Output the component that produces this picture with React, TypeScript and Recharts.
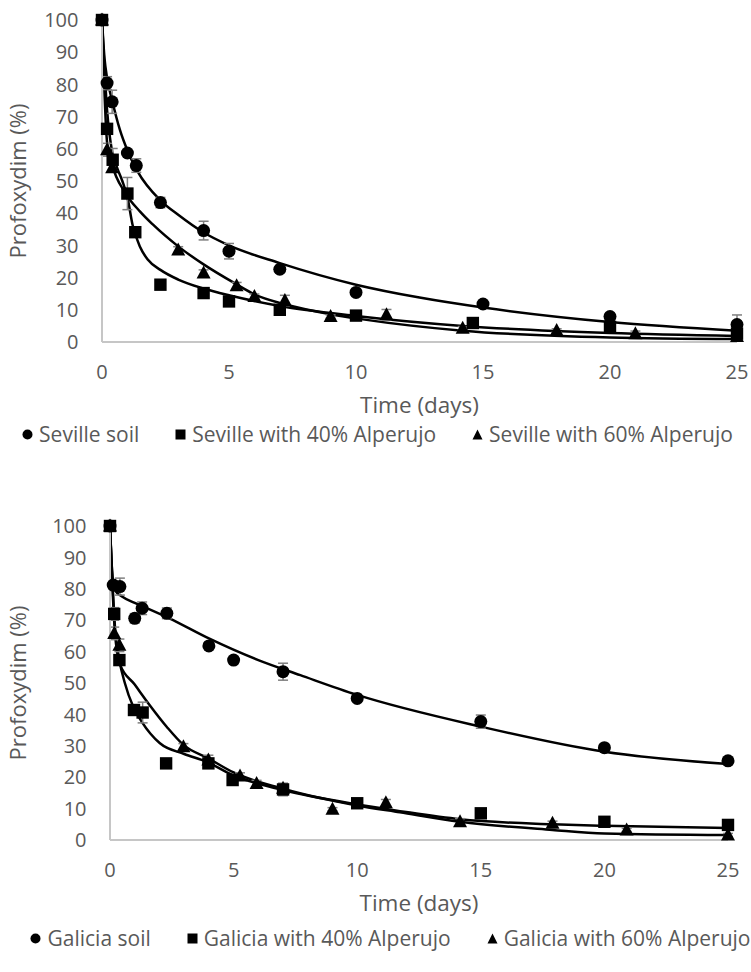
import React from 'react';
import { ComposedChart, Line, Scatter, XAxis, YAxis, ErrorBar, Legend } from 'recharts';

// ---------- shared axis ticks ----------
const xTicks = [0, 5, 10, 15, 20, 25];
const yTicks = [0, 10, 20, 30, 40, 50, 60, 70, 80, 90, 100];

// ---------- Seville (top panel) ----------
const sevilleNames = ['Seville soil', 'Seville with 40% Alperujo', 'Seville with 60% Alperujo'];

const sevilleSoilDays = [0, 0.2, 0.4, 1.0, 1.35, 2.3, 4.0, 5.0, 7.0, 10.0, 15.0, 20.0, 25.0];
const sevilleSoilValues = [100, 80.4, 74.6, 58.7, 54.8, 43.3, 34.6, 28.2, 22.6, 15.4, 11.8, 7.9, 5.4];
const sevilleSoilErrors = [0, 2.0, 3.6, 0.8, 2.1, 1.6, 2.9, 2.4, 0.8, 0.6, 0.6, 0.6, 3.0];

const sevilleA40Days = [0, 0.2, 0.42, 1.0, 1.31, 2.3, 4.0, 5.0, 7.0, 10.0, 14.6, 20.0, 25.0];
const sevilleA40Values = [100, 66.2, 56.6, 46.1, 34.1, 17.8, 15.2, 12.6, 10.0, 8.2, 5.9, 4.7, 2.6];
const sevilleA40Errors = [0, 1.5, 3.5, 5.0, 0, 1.2, 0, 0, 1.0, 0, 0.8, 0.8, 0.5];

const sevilleA60Days = [0, 0.2, 0.4, 3.0, 4.0, 5.3, 6.0, 7.2, 9.0, 11.2, 14.2, 17.9, 21.0, 25.0];
const sevilleA60Values = [100, 59.7, 54.1, 28.6, 21.4, 17.5, 14.1, 12.9, 7.9, 8.5, 4.3, 3.6, 2.6, 1.7];
const sevilleA60Errors = [0, 2.0, 1.0, 1.0, 1.0, 1.0, 0.8, 1.6, 0.5, 1.6, 0.5, 0.5, 0.8, 0.5];

const sevilleSoilFitDays = [0, 0.1, 0.2, 0.4, 0.7, 1.0, 1.4, 2.3, 3, 4, 5, 7, 10, 12.5, 15, 20, 25];
const sevilleSoilFitValues = [100, 88, 82, 75, 66, 59.5, 53, 44, 39.5, 34, 30, 24.5, 17.8, 13.8, 10.7, 6.2, 3.5];

const sevilleA40FitDays = [0, 0.2, 0.4, 0.6, 0.8, 1.0, 1.2, 1.5, 1.8, 2.3, 3, 4, 5, 7, 10, 14.2, 20, 25];
const sevilleA40FitValues = [100, 72, 59, 54, 50, 45, 36.5, 29.5, 25.6, 22.4, 19.4, 16.6, 14.5, 11.2, 8.1, 5.0, 2.8, 1.9];

const sevilleA60FitDays = [0, 0.2, 0.4, 0.9, 1.5, 2.0, 3.0, 4.0, 5.3, 6.0, 7.2, 9.0, 10.2, 14.2, 20, 25];
const sevilleA60FitValues = [100, 62, 55, 46.5, 40.5, 36.5, 29.7, 24.1, 17.9, 14.8, 11.7, 8.6, 7.1, 3.5, 1.4, 0.9];

// ---------- Galicia (bottom panel) ----------
const galiciaNames = ['Galicia soil', 'Galicia with 40% Alperujo', 'Galicia with 60% Alperujo'];

const galiciaSoilDays = [0, 0.13, 0.4, 1.0, 1.3, 2.3, 4.0, 5.0, 7.0, 10.0, 15.0, 20.0, 25.0];
const galiciaSoilValues = [100, 81.2, 80.7, 70.6, 73.8, 72.2, 61.8, 57.3, 53.6, 45.1, 37.7, 29.4, 25.2];
const galiciaSoilErrors = [0, 0.8, 2.7, 1.5, 2.0, 1.7, 0.8, 1.0, 2.7, 0.8, 2.1, 0.8, 0.5];

const galiciaA40Days = [0, 0.17, 0.38, 0.97, 1.32, 2.27, 3.98, 4.96, 7.0, 10.0, 15.0, 20.0, 25.0];
const galiciaA40Values = [100, 72.0, 57.3, 41.4, 40.6, 24.4, 24.4, 19.1, 16.1, 11.7, 8.5, 5.8, 4.8];
const galiciaA40Errors = [0, 2.0, 1.0, 0.5, 3.3, 0.5, 1.5, 0.8, 2.0, 0.8, 0.8, 0.5, 0.5];

const galiciaA60Days = [0, 0.17, 0.38, 2.97, 3.98, 5.26, 5.93, 7.0, 9.0, 11.16, 14.16, 17.9, 20.9, 25.0];
const galiciaA60Values = [100, 65.8, 62.0, 29.7, 25.5, 20.4, 18.0, 16.5, 9.8, 11.9, 5.8, 5.3, 3.2, 1.6];
const galiciaA60Errors = [0, 2.0, 2.0, 1.0, 1.5, 1.0, 1.0, 1.0, 0.5, 1.0, 1.0, 0.7, 0.5, 0.5];

const galiciaSoilFitDays = [0, 0.1, 0.2, 0.5, 1.0, 1.35, 2.4, 4.0, 6.0, 7.7, 10, 15, 20, 25];
const galiciaSoilFitValues = [100, 84, 79.5, 77.5, 75.5, 74.3, 70.6, 64.2, 57.3, 52.5, 46.2, 36.1, 28.1, 24.2];

const galiciaA40FitDays = [0, 0.2, 0.38, 0.6, 0.94, 1.28, 2.02, 3.0, 3.91, 4.96, 7, 10, 11.73, 14.16, 17.9, 20, 25];
const galiciaA40FitValues = [100, 68, 57.3, 50, 42.4, 37.7, 30.8, 27.4, 24.9, 20.7, 15.9, 11.3, 9.2, 6.6, 5.0, 4.5, 3.8];

const galiciaA60FitDays = [0, 0.2, 0.4, 1.0, 1.6, 2.3, 2.97, 3.98, 5.0, 7.0, 10.0, 11.73, 14.16, 17.9, 20, 25];
const galiciaA60FitValues = [100, 66, 56, 49.5, 43, 36, 30.3, 26, 21.5, 16.3, 11.0, 8.8, 5.8, 3.2, 2.1, 1.6];

// ---------- helpers ----------
type Pt = { x: number; y: number; e?: number };
const zip = (xs: number[], ys: number[], es?: number[]): Pt[] =>
  xs.map((x, i) => ({ x, y: ys[i], e: es ? es[i] : undefined }));

const FONT = "'Open Sans', sans-serif";
const TEXT = '#595959';
const AXIS = '#c6c6c6';
const ERR = '#7f7f7f';

const CircleShape = (p: any) => <circle cx={p.cx} cy={p.cy} r={6.5} fill="#000" />;
const SquareShape = (p: any) => <rect x={p.cx - 6.2} y={p.cy - 6.2} width={12.4} height={12.4} fill="#000" />;
const TriangleShape = (p: any) => (
  <polygon points={`${p.cx},${p.cy - 7.5} ${p.cx - 7},${p.cy + 5.5} ${p.cx + 7},${p.cy + 5.5}`} fill="#000" />
);

const LegendIcon = ({ kind }: { kind: number }) => (
  <svg width={11} height={11} style={{ marginRight: 6, flex: 'none' }}>
    {kind === 0 && <circle cx={5.5} cy={5.5} r={5} fill="#000" />}
    {kind === 1 && <rect x={0.5} y={0.5} width={10} height={10} fill="#000" />}
    {kind === 2 && <polygon points="5.5,0.5 0.5,10.5 10.5,10.5" fill="#000" />}
  </svg>
);

const LegendRow = ({ names, shift }: { names: string[]; shift: number }) => (
  <div
    style={{
      display: 'flex',
      justifyContent: 'center',
      alignItems: 'center',
      gap: 36,
      fontFamily: FONT,
      fontSize: 21,
      color: TEXT,
      whiteSpace: 'nowrap',
      lineHeight: '24px',
      paddingLeft: shift,
    }}
  >
    {names.map((n, i) => (
      <div key={n} style={{ display: 'flex', alignItems: 'center' }}>
        <LegendIcon kind={i} />
        <span>{n}</span>
      </div>
    ))}
  </div>
);

type PanelProps = {
  names: string[];
  soil: Pt[];
  a40: Pt[];
  a60: Pt[];
  soilFit: Pt[];
  a40Fit: Pt[];
  a60Fit: Pt[];
  margin: { top: number; right: number; bottom: number; left: number };
  yAxisWidth: number;
  legendTop: number;
  legendShift: number;
};

const Panel = (p: PanelProps) => (
  <ComposedChart width={751} height={486} margin={p.margin}>
    <XAxis
      type="number"
      dataKey="x"
      domain={[0, 25]}
      ticks={xTicks}
      tickLine={false}
      tickSize={0}
      tickMargin={23}
      axisLine={{ stroke: AXIS, strokeWidth: 2 }}
      tick={{ fill: TEXT, fontSize: 20, fontFamily: FONT }}
      height={71}
      label={{ value: 'Time (days)', position: 'insideBottom', offset: 0, fill: TEXT, fontSize: 22.5, fontFamily: FONT }}
    />
    <YAxis
      type="number"
      dataKey="y"
      domain={[0, 100]}
      ticks={yTicks}
      width={p.yAxisWidth}
      tickLine={false}
      tickSize={0}
      tickMargin={23.5}
      axisLine={{ stroke: AXIS, strokeWidth: 2 }}
      tick={{ fill: TEXT, fontSize: 20, fontFamily: FONT }}
      label={{
        value: 'Profoxydim (%)',
        angle: -90,
        position: 'insideLeft',
        offset: 18,
        fill: TEXT,
        fontSize: 22,
        fontFamily: FONT,
        style: { textAnchor: 'middle' },
      }}
    />
    <Legend
      verticalAlign="middle"
      align="center"
      layout="horizontal"
      wrapperStyle={{ top: p.legendTop, left: 0, width: 751 }}
      content={() => <LegendRow names={p.names} shift={p.legendShift} />}
    />
    <Line data={p.soilFit} dataKey="y" type="monotone" stroke="#000" strokeWidth={2.5} dot={false} activeDot={false} legendType="none" isAnimationActive={false} />
    <Line data={p.a40Fit} dataKey="y" type="monotone" stroke="#000" strokeWidth={2.5} dot={false} activeDot={false} legendType="none" isAnimationActive={false} />
    <Line data={p.a60Fit} dataKey="y" type="monotone" stroke="#000" strokeWidth={2.5} dot={false} activeDot={false} legendType="none" isAnimationActive={false} />
    <Scatter name={p.names[0]} data={p.soil} shape={CircleShape} legendType="circle" isAnimationActive={false}>
      <ErrorBar dataKey="e" direction="y" width={5} stroke={ERR} strokeWidth={1.5} isAnimationActive={false} />
    </Scatter>
    <Scatter name={p.names[1]} data={p.a40} shape={SquareShape} legendType="square" isAnimationActive={false}>
      <ErrorBar dataKey="e" direction="y" width={5} stroke={ERR} strokeWidth={1.5} isAnimationActive={false} />
    </Scatter>
    <Scatter name={p.names[2]} data={p.a60} shape={TriangleShape} legendType="triangle" isAnimationActive={false}>
      <ErrorBar dataKey="e" direction="y" width={5} stroke={ERR} strokeWidth={1.5} isAnimationActive={false} />
    </Scatter>
  </ComposedChart>
);

export default function App() {
  return (
    <div style={{ position: 'absolute', left: 0, top: 0, width: 751, height: 972, background: '#fff' }}>
      <div style={{ position: 'absolute', left: 0, top: 0 }}>
        <Panel
          names={sevilleNames}
          soil={zip(sevilleSoilDays, sevilleSoilValues, sevilleSoilErrors)}
          a40={zip(sevilleA40Days, sevilleA40Values, sevilleA40Errors)}
          a60={zip(sevilleA60Days, sevilleA60Values, sevilleA60Errors)}
          soilFit={zip(sevilleSoilFitDays, sevilleSoilFitValues)}
          a40Fit={zip(sevilleA40FitDays, sevilleA40FitValues)}
          a60Fit={zip(sevilleA60FitDays, sevilleA60FitValues)}
          margin={{ top: 20, right: 14, bottom: 73, left: 0 }}
          yAxisWidth={102}
          legendTop={422}
          legendShift={4}
        />
      </div>
      <div style={{ position: 'absolute', left: 0, top: 486 }}>
        <Panel
          names={galiciaNames}
          soil={zip(galiciaSoilDays, galiciaSoilValues, galiciaSoilErrors)}
          a40={zip(galiciaA40Days, galiciaA40Values, galiciaA40Errors)}
          a60={zip(galiciaA60Days, galiciaA60Values, galiciaA60Errors)}
          soilFit={zip(galiciaSoilFitDays, galiciaSoilFitValues)}
          a40Fit={zip(galiciaA40FitDays, galiciaA40FitValues)}
          a60Fit={zip(galiciaA60FitDays, galiciaA60FitValues)}
          margin={{ top: 40, right: 23, bottom: 61, left: 0 }}
          yAxisWidth={110}
          legendTop={440}
          legendShift={30}
        />
      </div>
    </div>
  );
}
